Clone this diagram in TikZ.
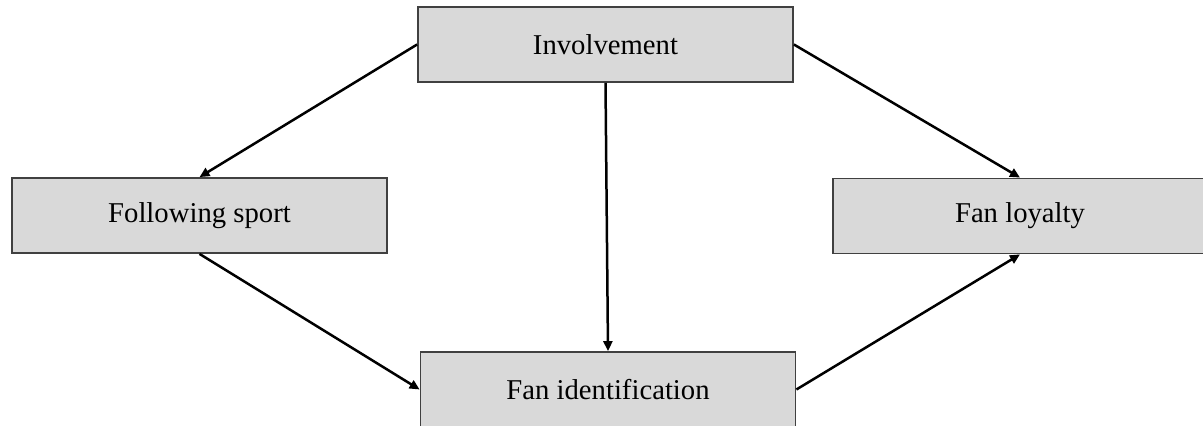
\documentclass[tikz,border=0pt]{standalone}
\usepackage{fontspec}
\setmainfont{Liberation Serif}
\usetikzlibrary{arrows.meta}
\begin{document}
\begin{tikzpicture}[x=0.5pt,y=-0.5pt,
  box/.style={draw=black!75,line width=0.9pt,fill=black!15,inner sep=0pt,
    minimum width=187.5pt,minimum height=37.5pt,font=\fontsize{14.35}{17}\selectfont},
  conn/.style={line width=1.25pt,-{Triangle[length=5pt,width=4.5pt]}}]
\useasboundingbox (0,0) rectangle (1203,426);
\clip (0,0) rectangle (1203,426);
\node[box] (inv) at (605.5,44.5) {Involvement};
\node[box] (fs) at (199.5,215.5) {Following sport};
\node[box,minimum width=187pt] (fl) at (1020,216) {Fan loyalty};
\node[box] (fid) at (608,389.5) {Fan identification};
\draw[conn] (inv.west) -- (fs.north);
\draw[conn] (inv.east) -- (fl.north);
\draw[conn] (inv.south) -- (fid.north);
\draw[conn] (fs.south) -- (fid.west);
\draw[conn] (fid.east) -- (fl.south);
\end{tikzpicture}
\end{document}
